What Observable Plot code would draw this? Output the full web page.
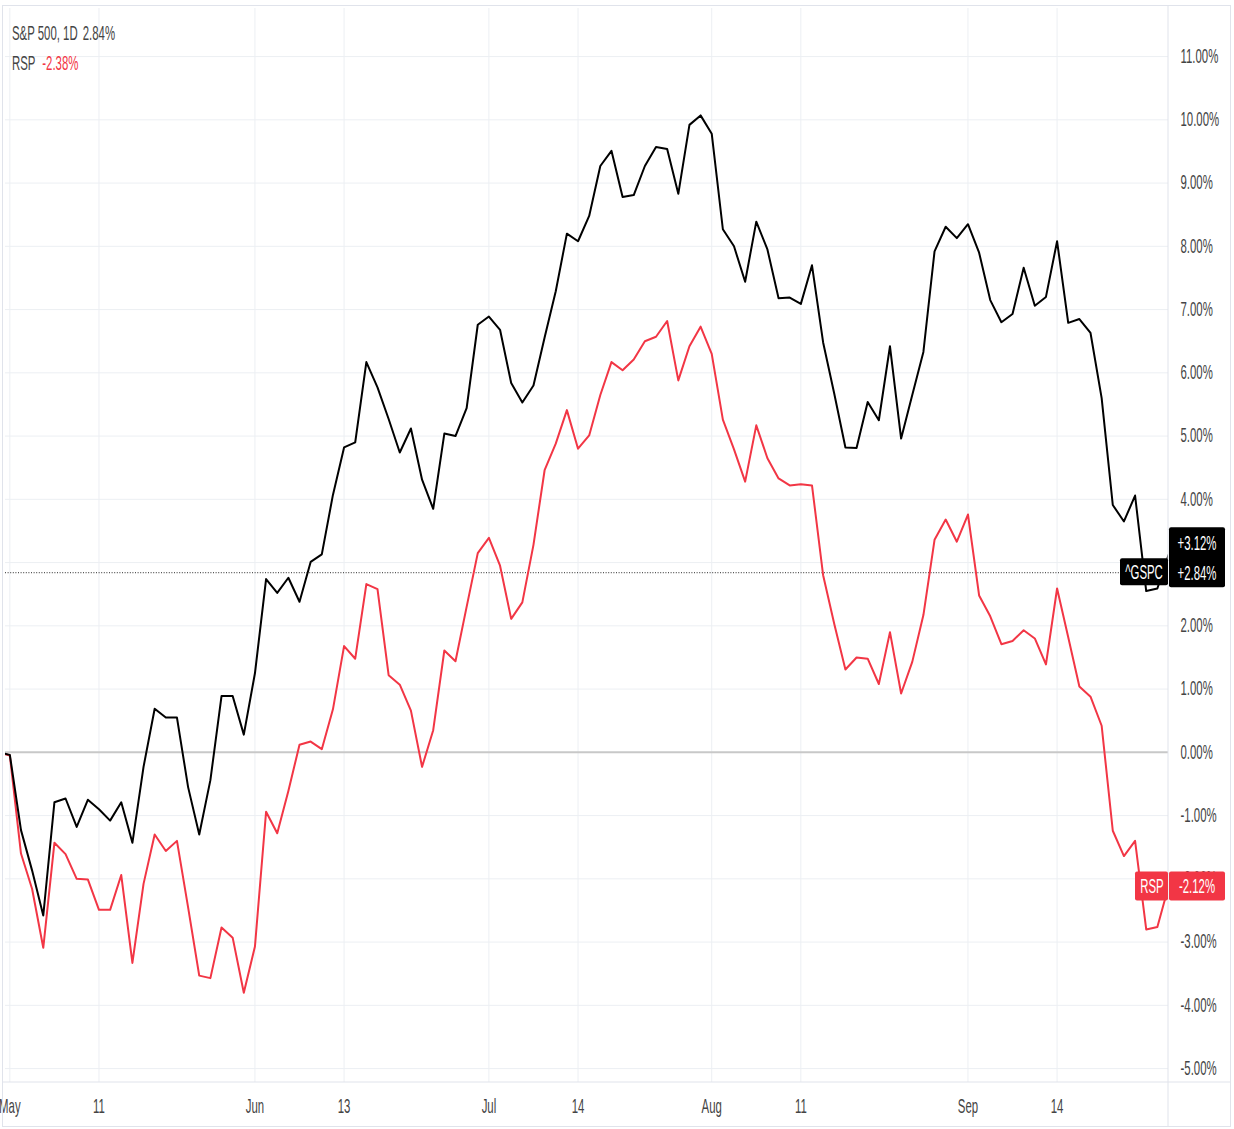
<!DOCTYPE html>
<html>
<head>
<meta charset="utf-8">
<script src="https://cdn.jsdelivr.net/npm/d3@7"></script>
<script src="https://cdn.jsdelivr.net/npm/@observablehq/plot@0.6"></script>
<style>
html,body{margin:0;padding:0;background:#fff;overflow:hidden}
#chart svg{display:block}
</style>
</head>
<body>
<div id="chart"></div>
<script>
// Daily % change vs. start (trading-day index 0 = Apr 28)
const spx = [
  0, -0.04, -1.23, -1.87, -2.58, -0.79, -0.73, -1.18, -0.75, -0.90,
  -1.08, -0.79, -1.43, -0.23, 0.69, 0.55, 0.55, -0.55, -1.30, -0.44,
  0.89, 0.89, 0.28, 1.25, 2.74, 2.52, 2.76, 2.38, 3.01, 3.13,
  4.07, 4.82, 4.90, 6.17, 5.77, 5.27, 4.74, 5.12, 4.31, 3.85,
  5.04, 5.00, 5.44, 6.76, 6.89, 6.68, 5.84, 5.53, 5.80, 6.56,
  7.29, 8.20, 8.08, 8.48, 9.27, 9.51, 8.78, 8.81, 9.27, 9.57,
  9.54, 8.83, 9.92, 10.07, 9.78, 8.27, 8.00, 7.44, 8.39, 7.95,
  7.18, 7.19, 7.09, 7.70, 6.48, 5.67, 4.82, 4.81, 5.54, 5.25,
  6.42, 4.96, 5.65, 6.33, 7.92, 8.31, 8.13, 8.35, 7.90, 7.15,
  6.80, 6.93, 7.66, 7.06, 7.20, 8.08, 6.79, 6.85, 6.63, 5.60,
  3.91, 3.65, 4.06, 2.55, 2.59, 3.12
];
const rsp = [
  0, -0.05, -1.60, -2.16, -3.09, -1.43, -1.61, -2.00, -2.01, -2.49,
  -2.49, -1.94, -3.33, -2.08, -1.30, -1.56, -1.40, -2.45, -3.53, -3.57,
  -2.77, -2.93, -3.80, -3.07, -0.94, -1.28, -0.61, 0.12, 0.17, 0.05,
  0.68, 1.68, 1.48, 2.66, 2.58, 1.22, 1.07, 0.66, -0.23, 0.35,
  1.61, 1.44, 2.30, 3.15, 3.39, 2.95, 2.11, 2.37, 3.28, 4.46,
  4.88, 5.41, 4.80, 5.01, 5.65, 6.17, 6.04, 6.21, 6.50, 6.57,
  6.82, 5.88, 6.42, 6.73, 6.30, 5.26, 4.79, 4.28, 5.17, 4.65,
  4.33, 4.22, 4.24, 4.22, 2.80, 2.03, 1.31, 1.50, 1.48, 1.08,
  1.90, 0.93, 1.43, 2.17, 3.36, 3.68, 3.33, 3.76, 2.48, 2.15,
  1.71, 1.76, 1.93, 1.80, 1.39, 2.59, 1.82, 1.04, 0.88, 0.42,
  -1.24, -1.64, -1.40, -2.80, -2.76, -2.12
];
const tickDays   = [1, 9, 23, 31, 44, 52, 64, 72, 87, 95];
const tickLabels = ["May", "11", "Jun", "13", "Jul", "14", "Aug", "11", "Sep", "14"];
const yTicks = d3.range(-5, 12);
const legendSpx = ["S&P 500, 1D", "2.84%"];
const legendRsp = ["RSP", "-2.38%"];
const spxTag = "^GSPC", spxLast = "+3.12%", spxRef = "+2.84%";
const refLevel = 2.84;
const rspTag = "RSP", rspLast = "-2.12%", rspLevel = -2.12;

const RED = "#f23645";
const FONT = "'Liberation Sans', Arial, 'DejaVu Sans', sans-serif";
const K = 0.57; // horizontal condensation of text

const fmtPct = d => (d < 0 ? "-" : "") + Math.abs(d).toFixed(2) + "%";

(function draw() {
  const chart = Plot.plot({
    width: 1234,
    height: 1129,
    marginLeft: 5,
    marginRight: 66,
    marginTop: 8,
    marginBottom: 47,
    x: {domain: [0.61, 105], axis: null},
    y: {domain: [-5.22, 11.76], axis: null},
    style: {fontFamily: FONT, fontSize: "20px", color: "#444", background: "#fff", overflow: "hidden"},
    marks: [
      Plot.gridY(yTicks, {stroke: "#eceff3", strokeOpacity: 1, strokeWidth: 1}),
      Plot.gridX(tickDays, {stroke: "#eceff3", strokeOpacity: 1, strokeWidth: 1}),
      Plot.ruleY([0], {stroke: "#c8c8c8", strokeWidth: 2}),
      Plot.ruleY([refLevel], {stroke: "#555", strokeWidth: 1.2, strokeDasharray: "1 1.6"}),
      Plot.lineY(rsp, {x: (d, i) => i, y: d => d, stroke: RED, strokeWidth: 2, strokeLinejoin: "round", clip: true}),
      Plot.lineY(spx, {x: (d, i) => i, y: d => d, stroke: "#000", strokeWidth: 2, strokeLinejoin: "round", clip: true}),
      Plot.axisX(tickDays, {anchor: "bottom", tickSize: 0, tickPadding: 16,
        tickFormat: d => tickLabels[tickDays.indexOf(d)]}),
      Plot.axisY(yTicks, {anchor: "right", tickSize: 0, tickPadding: 12, textAnchor: "start",
        tickFormat: fmtPct})
    ]
  });

  document.getElementById("chart").appendChild(chart);

  const svg = d3.select(chart);
  // condense axis text horizontally around each label's own origin
  svg.selectAll("text").each(function() {
    const t = d3.select(this);
    const x = t.attr("x");
    if (x != null && isFinite(+x) && +x !== 0) t.attr("x", +x / K);
    const tr = t.attr("transform") || "";
    t.attr("transform", tr + ` scale(${K},1)`);
  });

  const xs = chart.scale("x"), ys = chart.scale("y");
  const pRight = xs.range[1];
  const pBottom = ys.range[0];

  const deco = svg.append("g");
  deco.append("line").attr("x1", pRight).attr("x2", pRight).attr("y1", 5).attr("y2", 1127)
    .attr("stroke", "#e0e3eb");
  deco.append("line").attr("x1", 2).attr("x2", 1231).attr("y1", pBottom).attr("y2", pBottom)
    .attr("stroke", "#e0e3eb");
  deco.append("rect").attr("x", 2.5).attr("y", 5.5).attr("width", 1228).attr("height", 1121)
    .attr("fill", "none").attr("stroke", "#e0e3eb");

  function label(g, cx, cy, text, fill) {
    g.append("text").attr("transform", `translate(${cx},${cy}) scale(${K},1)`)
      .attr("text-anchor", "middle").attr("dy", "0.35em")
      .attr("font-family", FONT).attr("font-size", 20).attr("fill", fill).text(text);
  }

  const yRef = ys.apply(refLevel);
  const g1 = svg.append("g");
  g1.append("rect").attr("x", pRight - 48).attr("y", yRef - 14).attr("width", 48).attr("height", 27)
    .attr("rx", 2).attr("fill", "#000");
  g1.append("rect").attr("x", pRight + 1).attr("y", yRef - 45).attr("width", 56).attr("height", 60)
    .attr("rx", 2).attr("fill", "#000");
  label(g1, pRight - 24, yRef, spxTag, "#fff");
  label(g1, pRight + 29, yRef - 29, spxLast, "#fff");
  label(g1, pRight + 29, yRef + 1, spxRef, "#fff");

  const yR = ys.apply(rspLevel);
  const g2 = svg.append("g");
  g2.append("rect").attr("x", pRight - 33).attr("y", yR - 14.5).attr("width", 33).attr("height", 29)
    .attr("rx", 2).attr("fill", RED);
  g2.append("rect").attr("x", pRight + 1).attr("y", yR - 14.5).attr("width", 56).attr("height", 29)
    .attr("rx", 2).attr("fill", RED);
  label(g2, pRight - 16, yR, rspTag, "#fff");
  label(g2, pRight + 29, yR, rspLast, "#fff");

  const lg = svg.append("g").attr("font-family", FONT).attr("font-size", 20).attr("text-anchor", "start");
  const t1 = lg.append("text").attr("transform", `translate(12,33) scale(${K},1)`).attr("dy", "0.35em").attr("fill", "#444");
  t1.append("tspan").text(legendSpx[0]);
  t1.append("tspan").attr("dx", 9).text(legendSpx[1]);
  const t2 = lg.append("text").attr("transform", `translate(12,63) scale(${K},1)`).attr("dy", "0.35em").attr("fill", "#444");
  t2.append("tspan").text(legendRsp[0]);
  t2.append("tspan").attr("dx", 12).attr("fill", RED).text(legendRsp[1]);
})();
</script>
</body>
</html>
